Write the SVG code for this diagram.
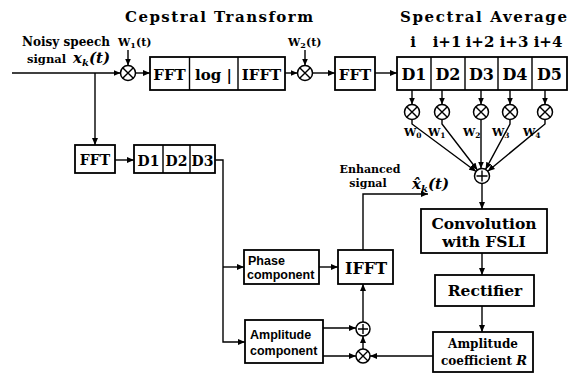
<svg xmlns="http://www.w3.org/2000/svg" width="569" height="377" viewBox="0 0 569 377">
<defs>
<marker id="ah" markerUnits="userSpaceOnUse" markerWidth="7" markerHeight="6" refX="7" refY="3" orient="auto">
<path d="M0,0 L7,3 L0,6 z" fill="#000"/>
</marker>
<style>
.bx{fill:#fff;stroke:#000;stroke-width:1.8}
.ln{fill:none;stroke:#000;stroke-width:1.4}
.ar{fill:none;stroke:#000;stroke-width:1.4;marker-end:url(#ah)}
.op{fill:#fff;stroke:#000;stroke-width:1.5}
.sf{font-family:"DejaVu Serif","Liberation Serif",serif;font-weight:bold;fill:#000}
.ss{font-family:"Liberation Sans",Arial,sans-serif;font-weight:bold;fill:#000}
.it{font-style:italic}
</style>
</defs>
<rect width="569" height="377" fill="#fff"/>

<text class="sf" x="125" y="22" font-size="15" textLength="188" lengthAdjust="spacing">Cepstral Transform</text>
<text class="sf" x="400" y="22" font-size="15" textLength="167" lengthAdjust="spacing">Spectral Average</text>

<g id="connectors">
<path class="ar" d="M12,73 H120.5"/>
<path class="ar" d="M128,50 V65.5"/>
<path class="ar" d="M135.5,73 H150"/>
<path class="ar" d="M285,73 H297.5"/>
<path class="ar" d="M305,50 V65.5"/>
<path class="ar" d="M312.5,73 H335"/>
<path class="ar" d="M375,73 H397"/>
<path class="ar" d="M412,90 V104.5"/>
<path class="ar" d="M442,90 V104.5"/>
<path class="ar" d="M481,90 V104.5"/>
<path class="ar" d="M510,90 V104.5"/>
<path class="ar" d="M545,90 V104.5"/>
<path class="ar" d="M412,119.5 V124 L476,171.5"/>
<path class="ar" d="M442,119.5 V124 L477.4,170"/>
<path class="ar" d="M481,119.5 V168.5"/>
<path class="ar" d="M510,119.5 V124 L485.6,169.4"/>
<path class="ar" d="M545,119.5 V124 L487.8,171.2"/>
<path class="ar" d="M482,183.5 V209"/>
<path class="ar" d="M482,253 V275"/>
<path class="ar" d="M482,306 V332"/>
<path class="ar" d="M433,356 H370"/>
<path class="ar" d="M363,349 V336"/>
<path class="ar" d="M363,322 V284"/>
<path class="ar" d="M363,250 V194 H428"/>
<path class="ar" d="M319,267 H338"/>
<path class="ar" d="M323,328 H356"/>
<path class="ar" d="M323,356 H356"/>
<path class="ar" d="M215,160 H223 V342 H245"/>
<path class="ar" d="M223,267 H244"/>
<path class="ar" d="M95,73 V145"/>
<path class="ar" d="M115,160 H134"/>
</g>

<g id="input-label">
<text class="sf" x="22" y="46" font-size="12" textLength="88" lengthAdjust="spacingAndGlyphs">Noisy speech</text>
<text class="sf" x="27" y="63" font-size="11.5">signal</text>
<text class="sf it" x="73" y="63" font-size="15">x<tspan font-size="10" dy="3">k</tspan><tspan dy="-3">(t)</tspan></text>
</g>

<g id="w1-mult">
<text class="sf" x="118" y="46" font-size="11">W<tspan font-size="8" dy="2">1</tspan><tspan dy="-2">(t)</tspan></text>
<circle class="op" cx="128" cy="73" r="7.5"/>
<path class="ln" d="M122.7,67.7 L133.3,78.3 M133.3,67.7 L122.7,78.3"/>
</g>

<g id="cepstral-box">
<rect class="bx" x="150" y="57" width="135" height="33"/>
<path class="ln" d="M189.5,57 V90 M238,57 V90" stroke-width="1.6"/>
<text class="sf" x="169.5" y="80" font-size="15" text-anchor="middle">FFT</text>
<text class="sf" x="213.5" y="80" font-size="15" text-anchor="middle">log |</text>
<text class="sf" x="261.5" y="80" font-size="15" text-anchor="middle">IFFT</text>
</g>

<g id="w2-mult">
<text class="sf" x="288" y="46" font-size="11">W<tspan font-size="8" dy="2">2</tspan><tspan dy="-2">(t)</tspan></text>
<circle class="op" cx="305" cy="73" r="7.5"/>
<path class="ln" d="M299.7,67.7 L310.3,78.3 M310.3,67.7 L299.7,78.3"/>
</g>

<g id="fft-top">
<rect class="bx" x="335" y="57" width="40" height="33"/>
<text class="sf" x="355" y="80" font-size="15" text-anchor="middle">FFT</text>
</g>

<g id="spectral-frames">
<rect class="bx" x="397" y="57" width="170" height="33"/>
<path class="ln" d="M431,57 V90 M465,57 V90 M498,57 V90 M532,57 V90" stroke-width="1.6"/>
<text class="sf" x="414" y="80" font-size="16" text-anchor="middle">D1</text>
<text class="sf" x="448" y="80" font-size="16" text-anchor="middle">D2</text>
<text class="sf" x="481.5" y="80" font-size="16" text-anchor="middle">D3</text>
<text class="sf" x="515" y="80" font-size="16" text-anchor="middle">D4</text>
<text class="sf" x="549.5" y="80" font-size="16" text-anchor="middle">D5</text>
<text class="sf" x="413" y="47" font-size="15" text-anchor="middle">i</text>
<text class="sf" x="447" y="47" font-size="15" text-anchor="middle">i+1</text>
<text class="sf" x="480" y="47" font-size="15" text-anchor="middle">i+2</text>
<text class="sf" x="514" y="47" font-size="15" text-anchor="middle">i+3</text>
<text class="sf" x="548" y="47" font-size="15" text-anchor="middle">i+4</text>
</g>

<g id="weights">
<circle class="op" cx="412" cy="112" r="7.5"/>
<path class="ln" d="M406.7,106.7 L417.3,117.3 M417.3,106.7 L406.7,117.3"/>
<circle class="op" cx="442" cy="112" r="7.5"/>
<path class="ln" d="M436.7,106.7 L447.3,117.3 M447.3,106.7 L436.7,117.3"/>
<circle class="op" cx="481" cy="112" r="7.5"/>
<path class="ln" d="M475.7,106.7 L486.3,117.3 M486.3,106.7 L475.7,117.3"/>
<circle class="op" cx="510" cy="112" r="7.5"/>
<path class="ln" d="M504.7,106.7 L515.3,117.3 M515.3,106.7 L504.7,117.3"/>
<circle class="op" cx="545" cy="112" r="7.5"/>
<path class="ln" d="M539.7,106.7 L550.3,117.3 M550.3,106.7 L539.7,117.3"/>
<text class="sf" x="404" y="136" font-size="11">W<tspan font-size="7.5" dy="2">0</tspan></text>
<text class="sf" x="428" y="136" font-size="11">W<tspan font-size="7.5" dy="2">1</tspan></text>
<text class="sf" x="463" y="136" font-size="11">W<tspan font-size="7.5" dy="2">2</tspan></text>
<text class="sf" x="492" y="136" font-size="11">W<tspan font-size="7.5" dy="2">3</tspan></text>
<text class="sf" x="523" y="136" font-size="11">W<tspan font-size="7.5" dy="2">4</tspan></text>
</g>

<g id="sum-top">
<circle class="op" cx="482" cy="176" r="7.5"/>
<path class="ln" d="M482,170.5 V181.5 M476.5,176 H487.5"/>
</g>

<g id="convolution">
<rect class="bx" x="421" y="209" width="126" height="44"/>
<text class="sf" x="484" y="229" font-size="15.5" text-anchor="middle">Convolution</text>
<text class="sf" x="484" y="247" font-size="15.5" text-anchor="middle">with  FSLI</text>
</g>

<g id="rectifier">
<rect class="bx" x="435" y="275" width="99" height="31"/>
<text class="sf" x="485" y="296" font-size="15.5" text-anchor="middle">Rectifier</text>
</g>

<g id="amp-coef">
<rect class="bx" x="433" y="332" width="100" height="40"/>
<text class="sf" x="483" y="348" font-size="12" text-anchor="middle">Amplitude</text>
<text class="sf" x="484" y="365" font-size="12" text-anchor="middle">coefficient <tspan class="it" font-size="13">R</tspan></text>
</g>

<g id="mult-bottom">
<circle class="op" cx="363" cy="356" r="7"/>
<path class="ln" d="M358,351 L368,361 M368,351 L358,361"/>
</g>

<g id="sum-bottom">
<circle class="op" cx="363" cy="329" r="7"/>
<path class="ln" d="M363,324 V334 M358,329 H368"/>
</g>

<g id="ifft-bottom">
<rect class="bx" x="338" y="250" width="55" height="34"/>
<text class="sf" x="366" y="274" font-size="16" text-anchor="middle">IFFT</text>
</g>

<g id="output-label">
<text class="sf" x="370" y="173" font-size="11" text-anchor="middle">Enhanced</text>
<text class="sf" x="368" y="187" font-size="11" text-anchor="middle">signal</text>
<text class="sf it" x="412" y="189" font-size="15">x̂<tspan font-size="10" dy="3">k</tspan><tspan dy="-3">(t)</tspan></text>
</g>

<g id="phase">
<rect class="bx" x="244" y="250" width="75" height="34"/>
<text class="ss" x="248" y="265" font-size="12.5">Phase</text>
<text class="ss" x="247" y="279" font-size="12.5">component</text>
</g>

<g id="amplitude">
<rect class="bx" x="245" y="320" width="78" height="43"/>
<text class="ss" x="250" y="339" font-size="12.5">Amplitude</text>
<text class="ss" x="250" y="355" font-size="12.5">component</text>
</g>

<g id="fft-low">
<rect class="bx" x="75" y="145" width="40" height="28"/>
<text class="sf" x="95" y="165" font-size="14" text-anchor="middle">FFT</text>
</g>

<g id="frames-low">
<rect class="bx" x="134" y="145" width="81" height="28"/>
<path class="ln" d="M163,145 V173 M190,145 V173" stroke-width="1.6"/>
<text class="sf" x="148.5" y="166" font-size="14" text-anchor="middle">D1</text>
<text class="sf" x="176.5" y="166" font-size="14" text-anchor="middle">D2</text>
<text class="sf" x="202.5" y="166" font-size="14" text-anchor="middle">D3</text>
</g>
</svg>
